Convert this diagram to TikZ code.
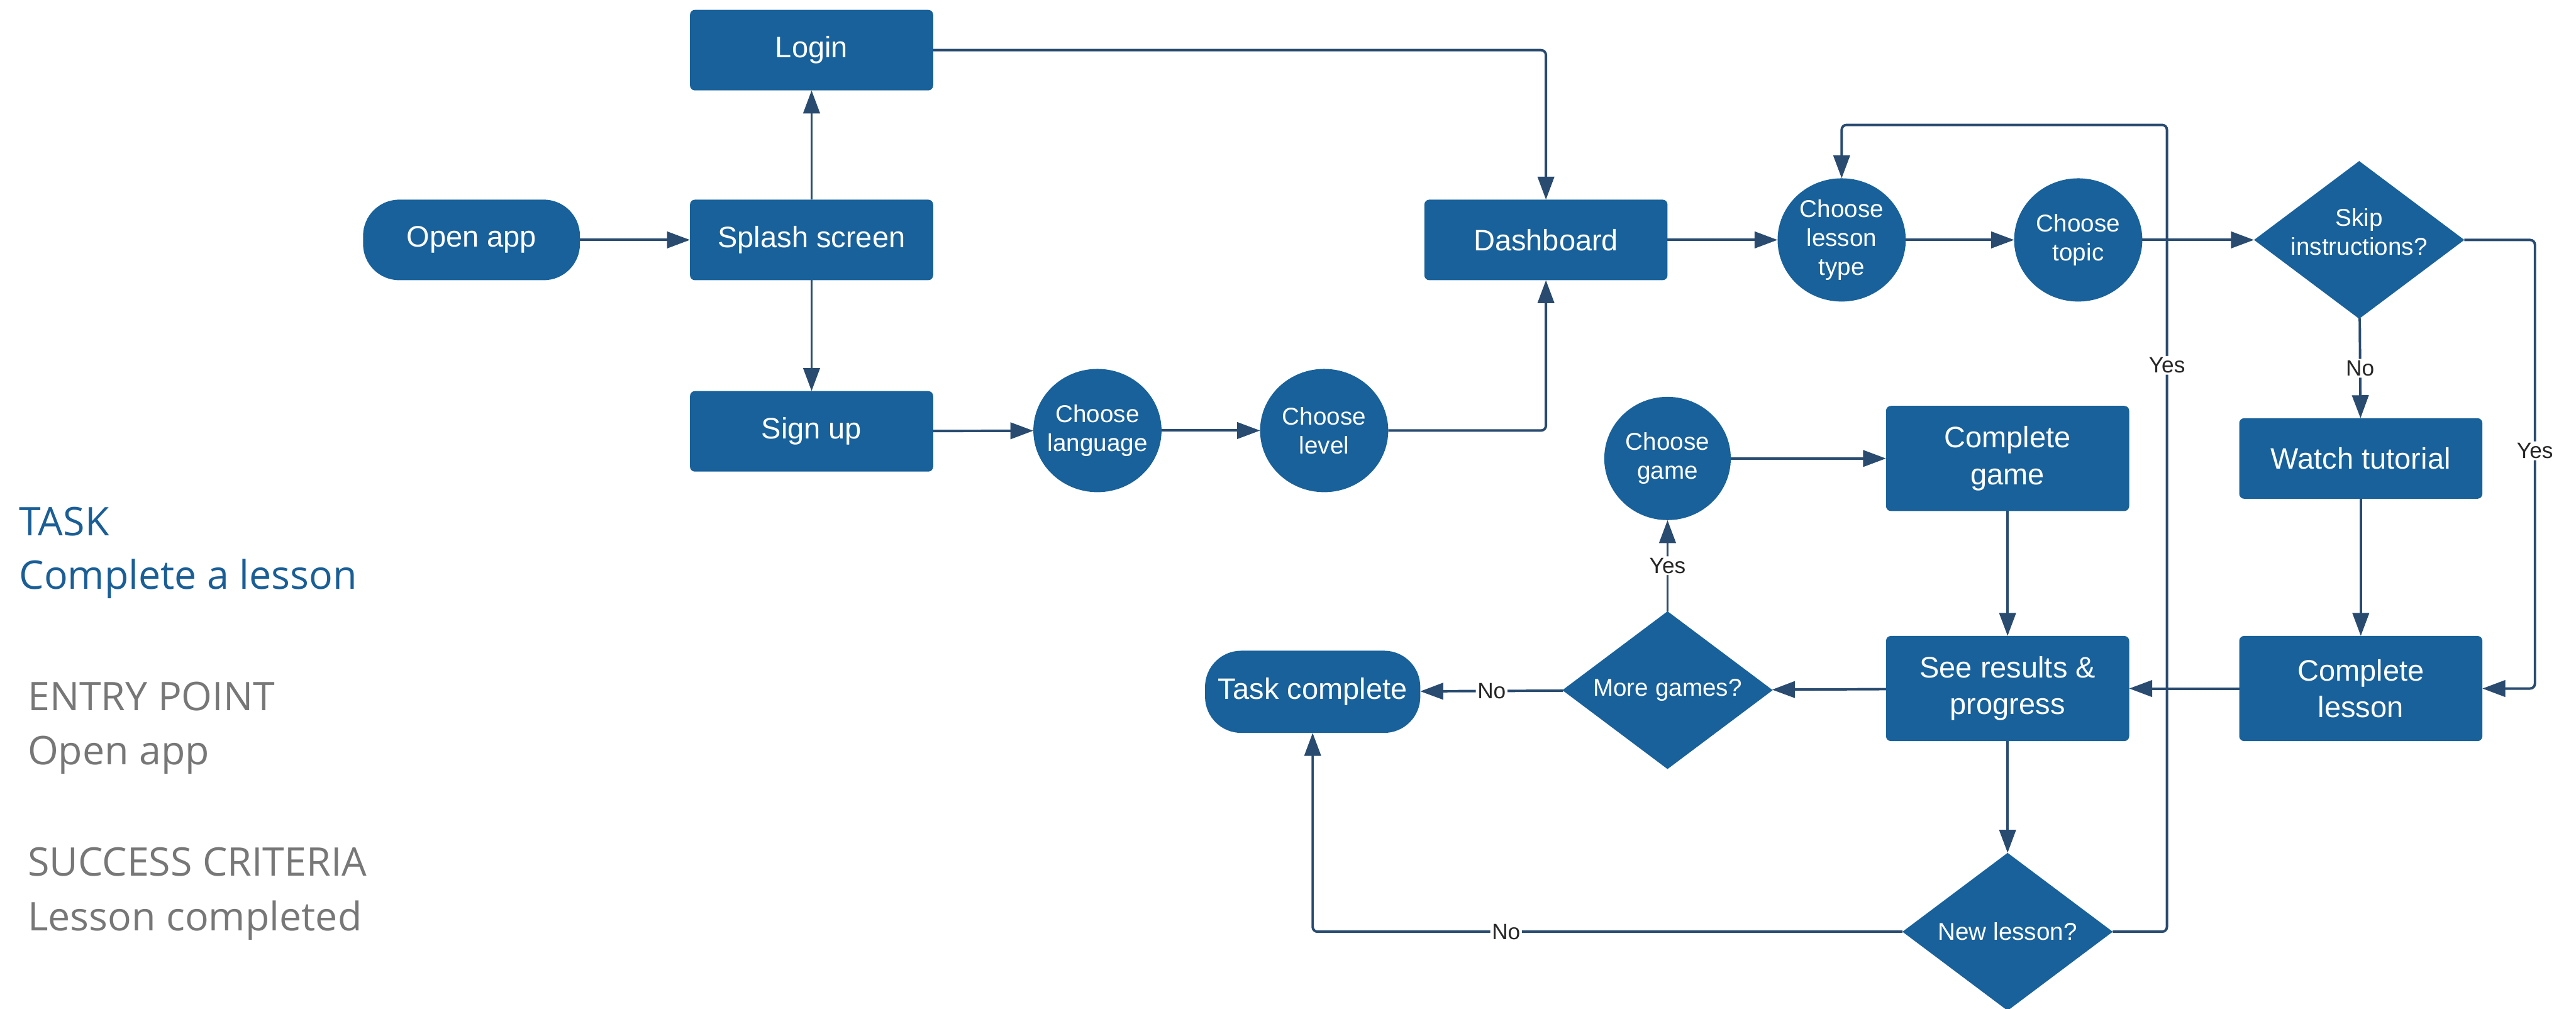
\documentclass[tikz,border=0pt]{standalone}
\usepackage{fontspec}
\setmainfont{Liberation Sans}
\newfontfamily\sidefont{Open Sans}
\usetikzlibrary{arrows.meta,shapes.geometric}
\definecolor{boxblue}{HTML}{18619A}
\definecolor{linecol}{HTML}{294B70}
\definecolor{taskblue}{HTML}{1A5E96}
\definecolor{sidegray}{HTML}{777777}
\begin{document}
\begin{tikzpicture}[x=1pt,y=-1pt,
 base/.style={fill=boxblue, draw=none, text=white, inner sep=0pt, outer sep=0pt},
 box/.style={base, rectangle, rounded corners=3pt, minimum width=148pt, minimum height=49pt, align=center, font=\fontsize{18}{22.3}\selectfont},
 tallbox/.style={box, minimum height=64pt},
 term/.style={base, rectangle, rounded corners=22pt, minimum height=49pt, font=\fontsize{18}{22.3}\selectfont},
 small/.style={text=white, align=center, font=\fontsize{14.8}{17.7}\selectfont, inner sep=0pt},
 oval/.style={base, ellipse, minimum width=78pt, minimum height=75pt, label={[small]center:#1}},
 dia/.style={base, diamond, minimum width=128pt, minimum height=96pt, label={[small]center:#1}},
 diaup/.style={base, diamond, minimum width=128pt, minimum height=96pt, label={[small, yshift=5pt]center:#1}},
 arr/.style={draw=linecol, line width=1.5pt, -{Triangle[length=14pt,width=10pt]}, rounded corners=3pt},
 lbl/.style={fill=white, text=black!85, inner sep=1pt, font=\fontsize{13.5}{16}\selectfont},
 side/.style={anchor=base west, inner sep=0pt, font=\sidefont\fontsize{24}{28}\selectfont},
]
\useasboundingbox (0,0) rectangle (1568,614);

% nodes
\node[term, minimum width=132pt] (open) at (287,146) {Open app};
\node[box] (splash) at (494,146) {Splash screen};
\node[box] (login) at (494,30.5) {Login};
\node[box] (signup) at (494,262.5) {Sign up};
\node[oval={Choose\\language}] (lang) at (668,262) {};
\node[oval={Choose\\level}] (level) at (806,262) {};
\node[box] (dash) at (941,146) {Dashboard};
\node[oval={Choose\\lesson\\type}] (ltype) at (1121,146) {};
\node[oval={Choose\\topic}] (topic) at (1265,146) {};
\node[diaup={Skip\\instructions?}] (skip) at (1436,146) {};
\node[box] (watch) at (1437,279) {Watch tutorial};
\node[oval={Choose\\game}, minimum width=77pt] (cgm) at (1015,279) {};
\node[tallbox] (cgame) at (1222,279) {Complete\\game};
\node[tallbox] (results) at (1222,419) {See results \&\\progress};
\node[tallbox] (clesson) at (1437,419) {Complete\\lesson};
\node[dia={More games?}] (more) at (1015,420) {};
\node[term, minimum width=131pt, minimum height=50pt] (task) at (799,421) {Task complete};
\node[dia={New lesson?}] (newl) at (1222,567) {};

\coordinate (sr) at (1543,146);
\coordinate (ya) at (1319,76);

% connectors
\draw[arr] (open) -- (splash);
\draw[arr] (splash) -- (login);
\draw[arr] (splash) -- (signup);
\draw[arr] (signup) -- (lang);
\draw[arr] (lang) -- (level);
\draw[arr] (login.east) -| (dash.north);
\draw[arr] (level.east) -| (dash.south);
\draw[arr] (dash) -- (ltype);
\draw[arr] (newl.east) -| node[lbl, pos=0.851] {Yes} (ya) -| (ltype.north);
\draw[arr] (ltype) -- (topic);
\draw[arr] (topic) -- (skip);
\draw[arr] (skip) -- node[lbl] {No} (watch);
\draw[arr] (skip.east) -- (sr) |- node[lbl, pos=0.235] {Yes} (clesson.east);
\draw[arr] (watch) -- (clesson);
\draw[arr] (cgame) -- (results);
\draw[arr] (clesson) -- (results);
\draw[arr] (results) -- (more);
\draw[arr] (more) -- node[lbl] {No} (task);
\draw[arr] (more) -- node[lbl] {Yes} (cgm);
\draw[arr] (cgm) -- (cgame);
\draw[arr] (results) -- (newl);
\draw[arr] (newl.west) -| node[lbl, pos=0.336] {No} (task.south);

% side text
\node[side, text=taskblue] (t1) at (11.5,325.8) {TASK};
\node[side, text=taskblue] (t2) at (11.5,358.6) {Complete a lesson};
\node[side, text=sidegray] (e1) at (16.7,432.3) {ENTRY POINT};
\node[side, text=sidegray] (e2) at (16.7,465.4) {Open app};
\node[side, text=sidegray] (s1) at (16.7,533) {SUCCESS CRITERIA};
\node[side, text=sidegray] (s2) at (16.7,566.4) {Lesson completed};
\end{tikzpicture}
\end{document}
